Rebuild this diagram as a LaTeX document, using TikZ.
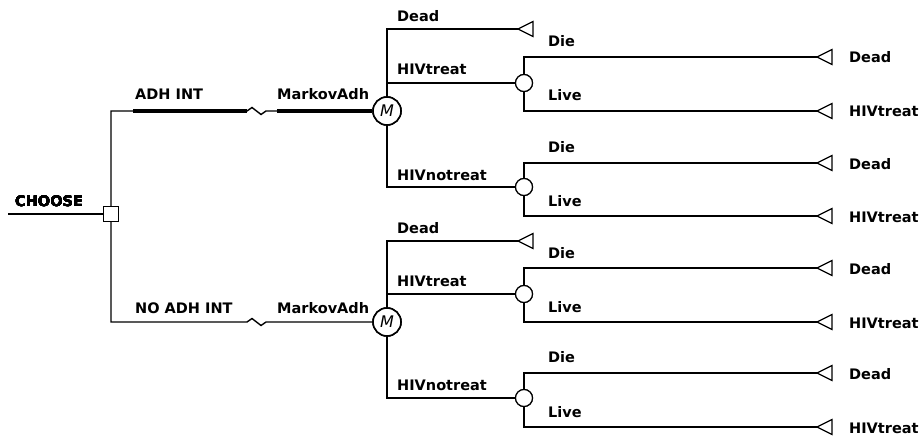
\documentclass[tikz,border=0pt]{standalone}
\usepackage{fontspec}
\setmainfont{DejaVu Sans}
\usetikzlibrary{calc}
\tikzset{
  ln/.style={line width=1.4pt, line join=miter},
  thk/.style={line width=4pt},
  lbl/.style={anchor=base west, inner sep=0pt, font=\fontsize{14.5}{16}\selectfont\bfseries},
  decbox/.style={draw, line width=1.2pt, fill=white, minimum size=15pt, inner sep=0pt},
  markov/.style={draw, circle, line width=1.6pt, fill=white, minimum size=28pt, inner sep=0pt, font=\fontsize{16}{16}\selectfont\itshape},
  chance/.style={draw, circle, line width=1.2pt, fill=white, minimum size=17pt, inner sep=0pt},
  term/.style={line width=1.2pt, fill=white, line join=miter}
}
\newcommand{\termtri}[1]{\draw[term] (#1) -- ++(15,-7.5) -- ++(0,15) -- cycle;}
\begin{document}
\begin{tikzpicture}[x=1pt,y=-1pt]
\useasboundingbox (0,0) rectangle (923,441);
% nodes
\node[decbox] (dec) at (111,214) {};
\coordinate (start) at (8,214);
\node[markov] (m1) at (387,111) {M};
\node[markov] (m2) at (387,322) {M};
\node[chance] (c1) at (524,83) {};
\node[chance] (c2) at (524,187) {};
\node[chance] (c3) at (524,294) {};
\node[chance] (c4) at (524,398) {};
% terminal tips
\coordinate (td1) at (518,29);
\coordinate (td2) at (518,241);
\coordinate (t1) at (817,57);
\coordinate (t2) at (817,111);
\coordinate (t3) at (817,163);
\coordinate (t4) at (817,216);
\coordinate (t5) at (817,268);
\coordinate (t6) at (817,322);
\coordinate (t7) at (817,373);
\coordinate (t8) at (817,427);
% break marks
\coordinate (a1) at (247,111); \coordinate (a2) at (252,107.5);
\coordinate (a3) at (261,114.5); \coordinate (a4) at (266,111);
\coordinate (ta) at (133,111); \coordinate (tb) at (277,111);
\coordinate (b1) at (247,322); \coordinate (b2) at (252,318.5);
\coordinate (b3) at (261,325.5); \coordinate (b4) at (266,322);
% connectors
\draw[ln] (start) -- (dec.west);
\draw[ln] (dec.north) |- (a1) -- (a2) -- (a3) -- (a4) -- (m1.west);
\draw[ln] (dec.south) |- (b1) -- (b2) -- (b3) -- (b4) -- (m2.west);
\draw[thk] (ta) -- (a1);
\draw[thk] (tb) -- (m1.west);
\draw[ln] (td1) -| (m1.north);
\draw[ln] (c1.west) -| (m1.north);
\draw[ln] (c2.west) -| (m1.south);
\draw[ln] (td2) -| (m2.north);
\draw[ln] (c3.west) -| (m2.north);
\draw[ln] (c4.west) -| (m2.south);
\draw[ln] (t1) -| (c1.north); \draw[ln] (t2) -| (c1.south);
\draw[ln] (t3) -| (c2.north); \draw[ln] (t4) -| (c2.south);
\draw[ln] (t5) -| (c3.north); \draw[ln] (t6) -| (c3.south);
\draw[ln] (t7) -| (c4.north); \draw[ln] (t8) -| (c4.south);
% redraw nodes on top
\node[decbox] at (dec) {};
\node[markov] at (m1) {M};
\node[markov] at (m2) {M};
\foreach \c in {c1,c2,c3,c4} \node[chance] at (\c) {};
\foreach \t in {td1,td2,t1,t2,t3,t4,t5,t6,t7,t8} \termtri{\t}
% labels
\node[lbl] (lchoose) at (15,206) {CHOOSE};
\node[lbl] (ladh) at (135,100) {ADH INT};
\node[lbl] (lmk1) at (277,100) {MarkovAdh};
\node[lbl] (lnoadh) at (135,313) {NO ADH INT};
\node[lbl] (lmk2) at (277,313) {MarkovAdh};
\node[lbl] at (397,22) {Dead};
\node[lbl] at (397,75) {HIVtreat};
\node[lbl] at (397,180) {HIVnotreat};
\node[lbl] at (397,233) {Dead};
\node[lbl] at (397,286) {HIVtreat};
\node[lbl] at (397,390) {HIVnotreat};
\node[lbl] at (548,47) {Die};
\node[lbl] at (548,101) {Live};
\node[lbl] at (548,153) {Die};
\node[lbl] at (548,206) {Live};
\node[lbl] at (548,258) {Die};
\node[lbl] at (548,312) {Live};
\node[lbl] at (548,362) {Die};
\node[lbl] at (548,417) {Live};
\node[lbl] at (849,63) {Dead};
\node[lbl] at (849,117) {HIVtreat};
\node[lbl] at (849,169) {Dead};
\node[lbl] at (849,222) {HIVtreat};
\node[lbl] at (849,274) {Dead};
\node[lbl] at (849,328) {HIVtreat};
\node[lbl] at (849,379) {Dead};
\node[lbl] at (849,433) {HIVtreat};
\end{tikzpicture}
\end{document}
